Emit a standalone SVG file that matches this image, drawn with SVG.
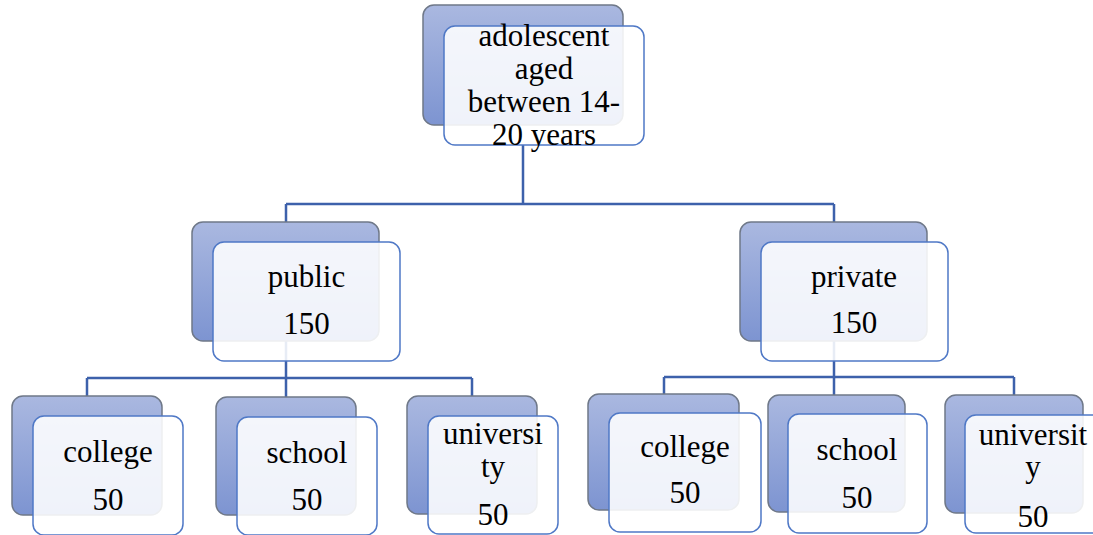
<svg xmlns="http://www.w3.org/2000/svg" width="1093" height="535" viewBox="0 0 1093 535">
  <defs>
    <linearGradient id="backGrad" x1="0" y1="0" x2="0" y2="1">
      <stop offset="0" stop-color="#aab8e0"/>
      <stop offset="1" stop-color="#7d94d1"/>
    </linearGradient>
    <style>
      .back { fill: url(#backGrad); stroke: #6f7888; stroke-width: 1.5; }
      .front { fill: #ffffff; fill-opacity: 0.88; stroke: #4f78c6; stroke-width: 1.5; }
      .conn { fill: none; stroke: #3d61ab; stroke-width: 2.5; }
      text { font-family: "Liberation Serif", "Times New Roman", serif; font-size: 31px; fill: #000000; text-anchor: middle; }
    </style>
  </defs>
  <rect width="1093" height="535" fill="#ffffff"/>

  <g id="connectors">
    <path class="conn" d="M523,145 V204 M286,204 H834 M286,204 V222 M834,204 V222"/>
    <path class="conn" d="M286,341 V397 M87,378 H472 M87,378 V396 M472,378 V396"/>
    <path class="conn" d="M834,341 V395 M664,377 H1014 M664,377 V394 M1014,377 V395"/>
  </g>

  <g id="node-root">
    <rect class="back" x="423" y="5" width="200" height="120" rx="11"/>
    <rect class="front" x="444" y="26" width="200" height="119" rx="11"/>
    <text x="544" y="46">adolescent</text>
    <text x="544" y="79">aged</text>
    <text x="544" y="112">between 14-</text>
    <text x="544" y="145">20 years</text>
  </g>

  <g id="node-public">
    <rect class="back" x="192" y="222" width="187" height="119" rx="11"/>
    <rect class="front" x="213" y="242" width="187" height="119" rx="11"/>
    <text x="306.5" y="287">public</text>
    <text x="306.5" y="334">150</text>
  </g>

  <g id="node-private">
    <rect class="back" x="740" y="222" width="187" height="119" rx="11"/>
    <rect class="front" x="761" y="242" width="187" height="119" rx="11"/>
    <text x="854" y="287">private</text>
    <text x="854" y="333">150</text>
  </g>

  <g id="node-college-public">
    <rect class="back" x="12" y="396" width="150" height="119" rx="11"/>
    <rect class="front" x="33" y="416" width="150" height="119" rx="11"/>
    <text x="108" y="462">college</text>
    <text x="108" y="510">50</text>
  </g>

  <g id="node-school-public">
    <rect class="back" x="216" y="397" width="140" height="118" rx="11"/>
    <rect class="front" x="237" y="417" width="140" height="118" rx="11"/>
    <text x="307" y="463">school</text>
    <text x="307" y="510">50</text>
  </g>

  <g id="node-university-public">
    <rect class="back" x="407" y="396" width="130" height="118" rx="11"/>
    <rect class="front" x="428" y="416" width="130" height="118" rx="11"/>
    <text x="493" y="444">universi</text>
    <text x="493" y="477">ty</text>
    <text x="493" y="525">50</text>
  </g>

  <g id="node-college-private">
    <rect class="back" x="588" y="394" width="151" height="116" rx="11"/>
    <rect class="front" x="609" y="413" width="152" height="119" rx="11"/>
    <text x="685" y="457">college</text>
    <text x="685" y="503">50</text>
  </g>

  <g id="node-school-private">
    <rect class="back" x="768" y="395" width="137" height="117" rx="11"/>
    <rect class="front" x="788" y="414" width="139" height="119" rx="11"/>
    <text x="857" y="460">school</text>
    <text x="857" y="508">50</text>
  </g>

  <g id="node-university-private">
    <rect class="back" x="945" y="395" width="138" height="118" rx="11"/>
    <rect class="front" x="965" y="415" width="140" height="118" rx="11"/>
    <text x="1033" y="445">universit</text>
    <text x="1033" y="477">y</text>
    <text x="1033" y="527">50</text>
  </g>
</svg>
